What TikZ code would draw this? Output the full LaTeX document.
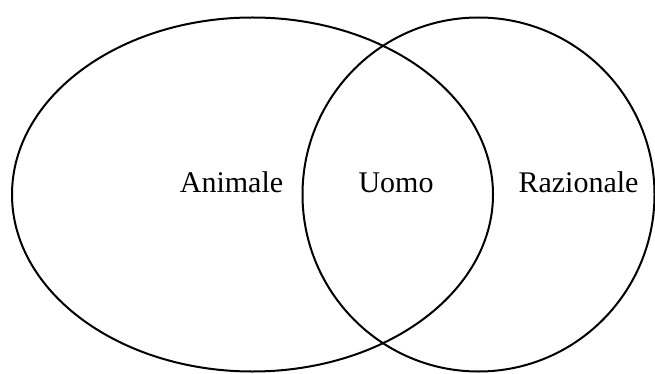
\documentclass[tikz,border=0pt]{standalone}
\usepackage{fontspec}
\setmainfont{Liberation Serif}
\usetikzlibrary{shapes.geometric}
\begin{document}
\begin{tikzpicture}[x=1pt,y=-1pt,
  setbox/.style={draw=black, line width=2pt, ellipse, inner sep=0pt},
  lbl/.style={anchor=base, inner sep=0pt, font=\fontsize{30}{36}\selectfont}]
\useasboundingbox (0,0) rectangle (655,374);
\node[setbox, minimum width=481pt, minimum height=354pt] (animale) at (252.5,194.5) {};
\node[setbox, minimum width=352pt, minimum height=354pt] (razionale) at (478.5,194.5) {};
\node[lbl] (tA) at (231.5,193) {Animale};
\node[lbl] (tU) at (396,193) {Uomo};
\node[lbl] (tR) at (578.5,193) {Razionale};
\end{tikzpicture}
\end{document}
